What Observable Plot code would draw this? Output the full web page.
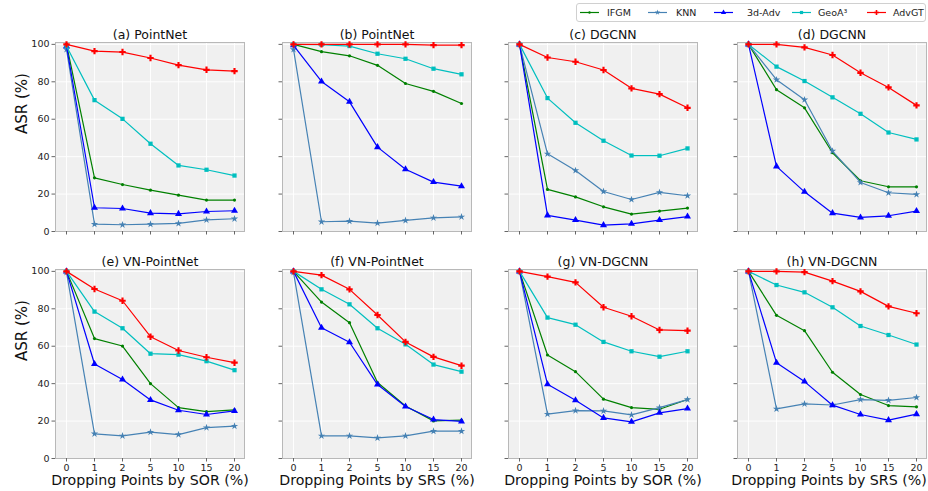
<!DOCTYPE html>
<html><head><meta charset="utf-8">
<script src="https://cdn.jsdelivr.net/npm/d3@7"></script>
<script src="https://cdn.jsdelivr.net/npm/@observablehq/plot@0.6"></script>
<style>
body{margin:0;background:#fff;font-family:"DejaVu Sans",sans-serif;}
#root{position:relative;width:928px;height:491px;overflow:hidden;background:#fff;}
.panel{position:absolute;}
</style></head><body><div id="root"></div>
<script>
// ---- data ----
const drops = ["0","1","2","5","10","15","20"];
const methods = ["IFGM","KNN","3d-Adv","GeoA³","AdvGT"];
const colors = ["#008000","#4682b4","#0000ff","#00bfbf","#ff0000"];
const symbols = ["circle","star","triangle","square","cross"];
const yTicks = [0,20,40,60,80,100];
const titles = ["(a) PointNet","(b) PointNet","(c) DGCNN","(d) DGCNN",
                "(e) VN-PointNet","(f) VN-PointNet","(g) VN-DGCNN","(h) VN-DGCNN"];
const xLabels = ["Dropping Points by SOR (%)","Dropping Points by SRS (%)",
                 "Dropping Points by SOR (%)","Dropping Points by SRS (%)"];
const yLabel = "ASR (%)";

// rows: IFGM, KNN, 3d-Adv, GeoA3, AdvGT
const panelA = [
  [100, 28.7, 25.1, 22.1, 19.4, 16.8, 16.8],
  [97.3, 3.9, 3.6, 3.9, 4.3, 6.2, 6.8],
  [99.0, 12.7, 12.3, 9.8, 9.4, 10.7, 11.1],
  [99.0, 70.2, 60.2, 46.9, 35.3, 33.0, 29.9],
  [100, 96.4, 95.9, 92.7, 88.9, 86.4, 85.7]];
const panelB = [
  [100, 96.1, 93.9, 88.8, 79.1, 74.9, 68.4],
  [97.3, 5.2, 5.5, 4.5, 5.9, 7.3, 7.8],
  [99.5, 80.2, 69.3, 45.1, 33.3, 26.4, 24.2],
  [100, 99.8, 99.1, 95.0, 92.3, 87.0, 84.0],
  [100, 100, 100, 100, 100, 99.6, 99.6]];
const panelC = [
  [100, 22.5, 18.5, 13.2, 9.3, 10.9, 12.5],
  [100, 41.5, 32.6, 21.4, 17.1, 20.9, 19.1],
  [100, 8.6, 6.1, 3.4, 4.1, 6.1, 8.0],
  [100, 71.3, 58.1, 48.5, 40.6, 40.5, 44.4],
  [100, 93.0, 90.7, 86.3, 76.5, 73.4, 66.1]];
const panelD = [
  [100, 75.8, 66.1, 42.1, 27.1, 23.9, 23.9],
  [100, 81.1, 70.4, 43.0, 26.2, 20.7, 19.8],
  [100, 34.8, 21.2, 9.8, 7.5, 8.4, 10.9],
  [100, 88.1, 80.4, 71.7, 62.9, 52.9, 49.2],
  [100, 100, 98.4, 94.3, 84.8, 77.0, 67.4]];
const panelE = [
  [100, 64.1, 60.1, 40.0, 27.2, 25.1, 26.0],
  [99.5, 13.2, 12.1, 14.1, 12.8, 16.5, 17.3],
  [100, 50.5, 42.2, 31.3, 25.8, 23.5, 25.4],
  [100, 78.5, 69.6, 56.0, 55.5, 52.0, 47.2],
  [100, 90.6, 84.3, 65.1, 57.7, 54.1, 51.2]];
const panelF = [
  [100, 83.6, 72.6, 40.6, 28.1, 20.1, 20.5],
  [99.5, 12.1, 12.1, 11.0, 12.1, 14.6, 14.6],
  [100, 69.9, 62.1, 39.5, 27.8, 20.8, 19.8],
  [100, 90.4, 82.4, 69.6, 61.0, 50.2, 46.4],
  [100, 98.0, 90.4, 76.7, 62.3, 54.3, 49.6]];
const panelG = [
  [100, 55.3, 46.4, 31.7, 27.2, 26.3, 31.5],
  [100, 23.7, 25.6, 25.4, 23.3, 27.2, 31.5],
  [100, 39.7, 31.1, 21.7, 19.6, 24.4, 26.7],
  [100, 75.3, 71.5, 62.3, 57.3, 54.4, 57.3],
  [100, 97.2, 94.1, 80.8, 76.0, 68.7, 68.3]];
const panelH = [
  [100, 76.5, 68.3, 46.1, 34.2, 28.3, 27.6],
  [100, 26.5, 29.2, 28.6, 31.5, 31.1, 32.6],
  [100, 51.2, 41.1, 28.5, 23.5, 20.5, 23.7],
  [100, 92.7, 88.8, 80.8, 70.8, 66.0, 60.9],
  [100, 100, 99.6, 94.8, 89.3, 81.3, 77.6]];
const panels = [panelA, panelB, panelC, panelD, panelE, panelF, panelG, panelH];

// ---- layout ----
const colLeft = [55, 282, 508, 737];
const rowTop = [42, 269];
const FW = 189, FH = 189;
const ML = 52, MR = 3, MT = 30, MB = 36;
const markerR = {"IFGM":1.6, "KNN":2.3, "3d-Adv":2.6, "GeoA³":2.4, "AdvGT":2.7};
const root = document.getElementById("root");

panels.forEach((vals, i) => {
  const row = Math.floor(i / 4), col = i % 4;
  const data = [];
  methods.forEach((m, k) => vals[k].forEach((v, j) => data.push({method: m, drop: drops[j], asr: v})));
  const marks = [
    Plot.frame({fill: "#f0f0f0", stroke: "none"}),
    Plot.gridX({stroke: "#ffffff", strokeOpacity: 1, strokeWidth: 0.9}),
    Plot.gridY(yTicks, {stroke: "#ffffff", strokeOpacity: 1, strokeWidth: 0.9}),
    Plot.frame({stroke: "#b8b8b8", strokeWidth: 1}),
    Plot.axisX({tickSize: 3.5, tickPadding: 2.5, stroke: "#666", fill: "#222", fontSize: 9.5,
                tickFormat: row === 1 ? (d => d) : (() => ""), label: null}),
    Plot.axisY(yTicks, {tickSize: 3.5, tickPadding: 2.5, stroke: "#666", fill: "#222", fontSize: 9.5,
                tickFormat: col === 0 ? (d => d) : (() => ""), label: null}),
    Plot.text([titles[i]], {frameAnchor: "top", lineAnchor: "middle", dy: -8, fontSize: 12.5, fill: "#111"})
  ];
  methods.forEach(m => {
    const sub = data.filter(d => d.method === m);
    marks.push(Plot.line(sub, {x: "drop", y: "asr", stroke: "method", strokeWidth: 1.2}));
    marks.push(Plot.dot(sub, {x: "drop", y: "asr", fill: "method", symbol: "method", r: markerR[m], stroke: "none"}));
  });
  if (col === 0) marks.push(Plot.text([yLabel], {frameAnchor: "left", lineAnchor: "middle", dx: -33, dy: -3, rotate: -90, fontSize: 15, fill: "#111"}));
  if (row === 1) marks.push(Plot.text([xLabels[col]], {frameAnchor: "bottom", lineAnchor: "middle", dy: 22, dx: col === 3 ? -3 : 0, fontSize: 14.2, fill: "#111"}));
  const svg = Plot.plot({
    width: FW + ML + MR, height: FH + MT + MB,
    marginLeft: ML, marginRight: MR, marginTop: MT, marginBottom: MB,
    style: {background: "transparent", fontFamily: "DejaVu Sans", fontSize: "9.5px", overflow: "visible", color: "#222"},
    x: {type: "point", domain: drops, padding: 0.28, axis: null},
    y: {domain: [0, 101], axis: null},
    color: {domain: methods, range: colors},
    symbol: {domain: methods, range: symbols},
    marks
  });
  svg.classList.add("panel");
  svg.style.left = (colLeft[col] - ML) + "px";
  svg.style.top = (rowTop[row] - MT) + "px";
  root.appendChild(svg);
});

// ---- legend ----
const lineX = [580, 648, 714, 792, 867];
const textX = [607, 676, 747, 818, 893];
const leg = d3.select(root).append("svg")
  .attr("class", "panel").style("left", "0px").style("top", "0px")
  .attr("width", 928).attr("height", 26);
leg.append("rect").attr("x", 576.5).attr("y", 3.5).attr("width", 349).attr("height", 18)
  .attr("rx", 2.5).attr("fill", "#fff").attr("stroke", "#d0d0d0");
const col = d3.scaleOrdinal(methods, colors);
const sym = d3.scaleOrdinal(methods, [d3.symbolCircle, d3.symbolStar, d3.symbolTriangle, d3.symbolSquare, d3.symbolCross]);
methods.forEach((m, k) => {
  const g = leg.append("g");
  g.append("line").attr("x1", lineX[k]).attr("x2", lineX[k] + 19).attr("y1", 12.5).attr("y2", 12.5)
    .attr("stroke", col(m)).attr("stroke-width", 1.2);
  const r = markerR[m] * 0.75;
  g.append("path").attr("transform", `translate(${lineX[k] + 9.5},12.5)`)
    .attr("d", d3.symbol(sym(m), Math.PI * r * r)()).attr("fill", col(m));
  g.append("text").attr("x", textX[k]).attr("y", 12.5).attr("dy", "0.35em")
    .attr("font-size", 9.5).attr("font-family", "DejaVu Sans").attr("fill", "#222").text(m);
});
</script></body></html>
